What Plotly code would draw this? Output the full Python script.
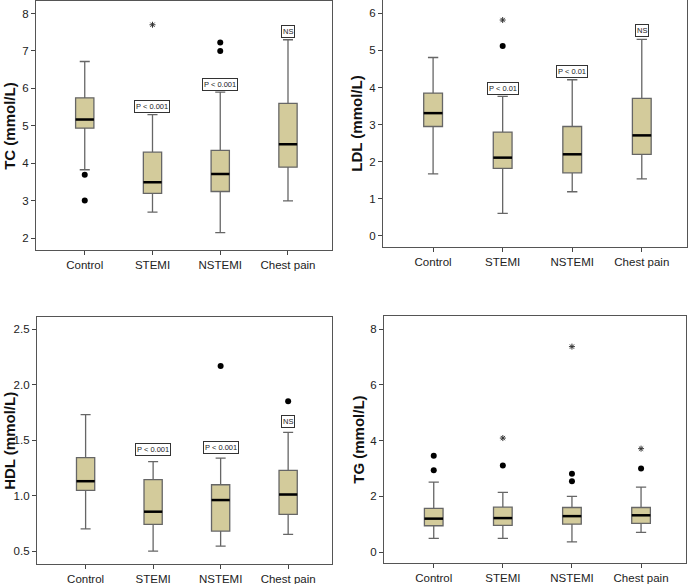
import plotly.graph_objects as go

groups = ['Control', 'STEMI', 'NSTEMI', 'Chest pain']

# box stats per panel: lower whisker, q1, median, q3, upper whisker
tc_low = [3.83, 2.70, 2.15, 3.00]
tc_q1 = [4.94, 3.20, 3.25, 3.90]
tc_med = [5.17, 3.50, 3.72, 4.51]
tc_q3 = [5.75, 4.30, 4.35, 5.60]
tc_high = [6.72, 5.30, 5.90, 7.30]
tc_dots = [(0, 3.70), (0, 3.01), (2, 7.00), (2, 7.23)]
tc_stars = [(1, 7.70)]
tc_labels = [(1, 5.52, 'P < 0.001'), (2, 6.10, 'P < 0.001'), (3, 7.52, 'NS')]

ldl_low = [1.67, 0.61, 1.19, 1.54]
ldl_q1 = [2.95, 1.82, 1.70, 2.20]
ldl_med = [3.31, 2.11, 2.20, 2.71]
ldl_q3 = [3.85, 2.80, 2.95, 3.71]
ldl_high = [4.81, 3.76, 4.21, 5.30]
ldl_dots = [(1, 5.12)]
ldl_stars = [(1, 5.82)]
ldl_labels = [(1, 3.98, 'P < 0.01'), (2, 4.43, 'P < 0.01'), (3, 5.55, 'NS')]

hdl_low = [0.70, 0.50, 0.545, 0.65]
hdl_q1 = [1.047, 0.74, 0.68, 0.83]
hdl_med = [1.13, 0.855, 0.96, 1.01]
hdl_q3 = [1.342, 1.144, 1.098, 1.228]
hdl_high = [1.73, 1.306, 1.339, 1.57]
hdl_dots = [(2, 2.17), (3, 1.85)]
hdl_stars = []
hdl_labels = [(1, 1.42, 'P < 0.001'), (2, 1.43, 'P < 0.001'), (3, 1.67, 'NS')]

tg_low = [0.49, 0.49, 0.37, 0.71]
tg_q1 = [0.945, 0.96, 1.00, 1.03]
tg_med = [1.20, 1.22, 1.29, 1.32]
tg_q3 = [1.57, 1.61, 1.60, 1.60]
tg_high = [2.51, 2.14, 2.00, 2.33]
tg_dots = [(0, 2.94), (0, 3.46), (1, 3.11), (2, 2.81), (2, 2.54), (3, 3.00)]
tg_stars = [(1, 4.09), (2, 7.37), (3, 3.71)]
tg_labels = []

panels = [
    dict(stats=(tc_low, tc_q1, tc_med, tc_q3, tc_high), dots=tc_dots, stars=tc_stars, labels=tc_labels,
         title='TC (mmol/L)', yrange=[1.69, 8.33], dtick=1, fmt='d',
         xd=[0.0522, 0.4819], yd=[0.572, 0.998], tx=0.0135),
    dict(stats=(ldl_low, ldl_q1, ldl_med, ldl_q3, ldl_high), dots=ldl_dots, stars=ldl_stars, labels=ldl_labels,
         title='LDL (mmol/L)', yrange=[-0.3, 6.36], dtick=1, fmt='d',
         xd=[0.5559, 0.9971], yd=[0.577, 1.0], tx=0.517),
    dict(stats=(hdl_low, hdl_q1, hdl_med, hdl_q3, hdl_high), dots=hdl_dots, stars=hdl_stars, labels=hdl_labels,
         title='HDL (mmol/L)', yrange=[0.383, 2.61], dtick=0.5, fmt='.1f',
         xd=[0.0537, 0.4819], yd=[0.0342, 0.457], tx=0.0135),
    dict(stats=(tg_low, tg_q1, tg_med, tg_q3, tg_high), dots=tg_dots, stars=tg_stars, labels=tg_labels,
         title='TG (mmol/L)', yrange=[-0.39, 8.47], dtick=2, fmt='d',
         xd=[0.5573, 0.9956], yd=[0.036, 0.459], tx=0.520),
]

box_fill = '#D3CB9B'
edge = '#666666'
box_w = 0.27

fig = go.Figure()
layout = dict(
    width=689, height=584, margin=dict(l=0, r=0, t=0, b=0, autoexpand=False),
    paper_bgcolor='white', plot_bgcolor='white', showlegend=False,
    font=dict(family='Liberation Sans, Arial', color='#222'),
)
annotations = []

for i, p in enumerate(panels):
    n = '' if i == 0 else str(i + 1)
    xa, ya = 'x' + n, 'y' + n
    low, q1, med, q3, high = p['stats']
    for j in range(len(groups)):
        fig.add_trace(go.Box(
            x=[j], q1=[q1[j]], median=[med[j]], q3=[q3[j]],
            lowerfence=[low[j]], upperfence=[high[j]],
            width=box_w, whiskerwidth=0.55, fillcolor=box_fill,
            line=dict(color=edge, width=1.3), boxpoints=False,
            xaxis=xa, yaxis=ya, hoverinfo='skip'))
        fig.add_trace(go.Scatter(
            x=[j - box_w / 2, j + box_w / 2], y=[med[j], med[j]], mode='lines',
            line=dict(color='black', width=2.5), xaxis=xa, yaxis=ya, hoverinfo='skip'))
    if p['dots']:
        fig.add_trace(go.Scatter(
            x=[d[0] for d in p['dots']], y=[d[1] for d in p['dots']], mode='markers',
            marker=dict(color='black', size=6), xaxis=xa, yaxis=ya))
    if p['stars']:
        fig.add_trace(go.Scatter(
            x=[d[0] for d in p['stars']], y=[d[1] for d in p['stars']], mode='markers',
            marker=dict(symbol='asterisk-open', size=5, color='#333', line=dict(color='#333', width=1)),
            xaxis=xa, yaxis=ya))
    for gx, gy, txt in p['labels']:
        annotations.append(dict(
            x=gx, y=gy, xref=xa, yref=ya, text=txt, showarrow=False,
            font=dict(size=7.5, color='#222'), bordercolor='#333', borderwidth=1,
            borderpad=1, bgcolor='white'))
    # y axis title as rotated text
    annotations.append(dict(
        x=p['tx'], y=sum(p['yd']) / 2, xref='paper', yref='paper',
        text='<b>' + p['title'] + '</b>', textangle=-90, showarrow=False,
        xanchor='center', yanchor='middle', font=dict(size=15, color='#111')))
    layout['xaxis' + n] = dict(
        domain=p['xd'], anchor=ya, range=[-0.72, 3.65], automargin=False,
        tickvals=list(range(len(groups))), ticktext=groups,
        ticks='outside', ticklen=4, tickcolor='#444', showgrid=False, zeroline=False,
        showline=True, linecolor='#555', linewidth=1.2, mirror=True,
        tickfont=dict(size=11.5, color='#222'))
    layout['yaxis' + n] = dict(
        domain=p['yd'], anchor=xa, range=p['yrange'], dtick=p['dtick'], tick0=0,
        tickformat=p['fmt'], ticks='outside', ticklen=4, tickcolor='#444',
        showgrid=False, zeroline=False, automargin=False,
        showline=True, linecolor='#555', linewidth=1.2, mirror=True,
        tickfont=dict(size=11.5, color='#222'))

fig.update_layout(**layout, annotations=annotations)
fig.write_html('out.html', config={'displayModeBar': False},
               post_script="document.body.style.margin='0px';")
